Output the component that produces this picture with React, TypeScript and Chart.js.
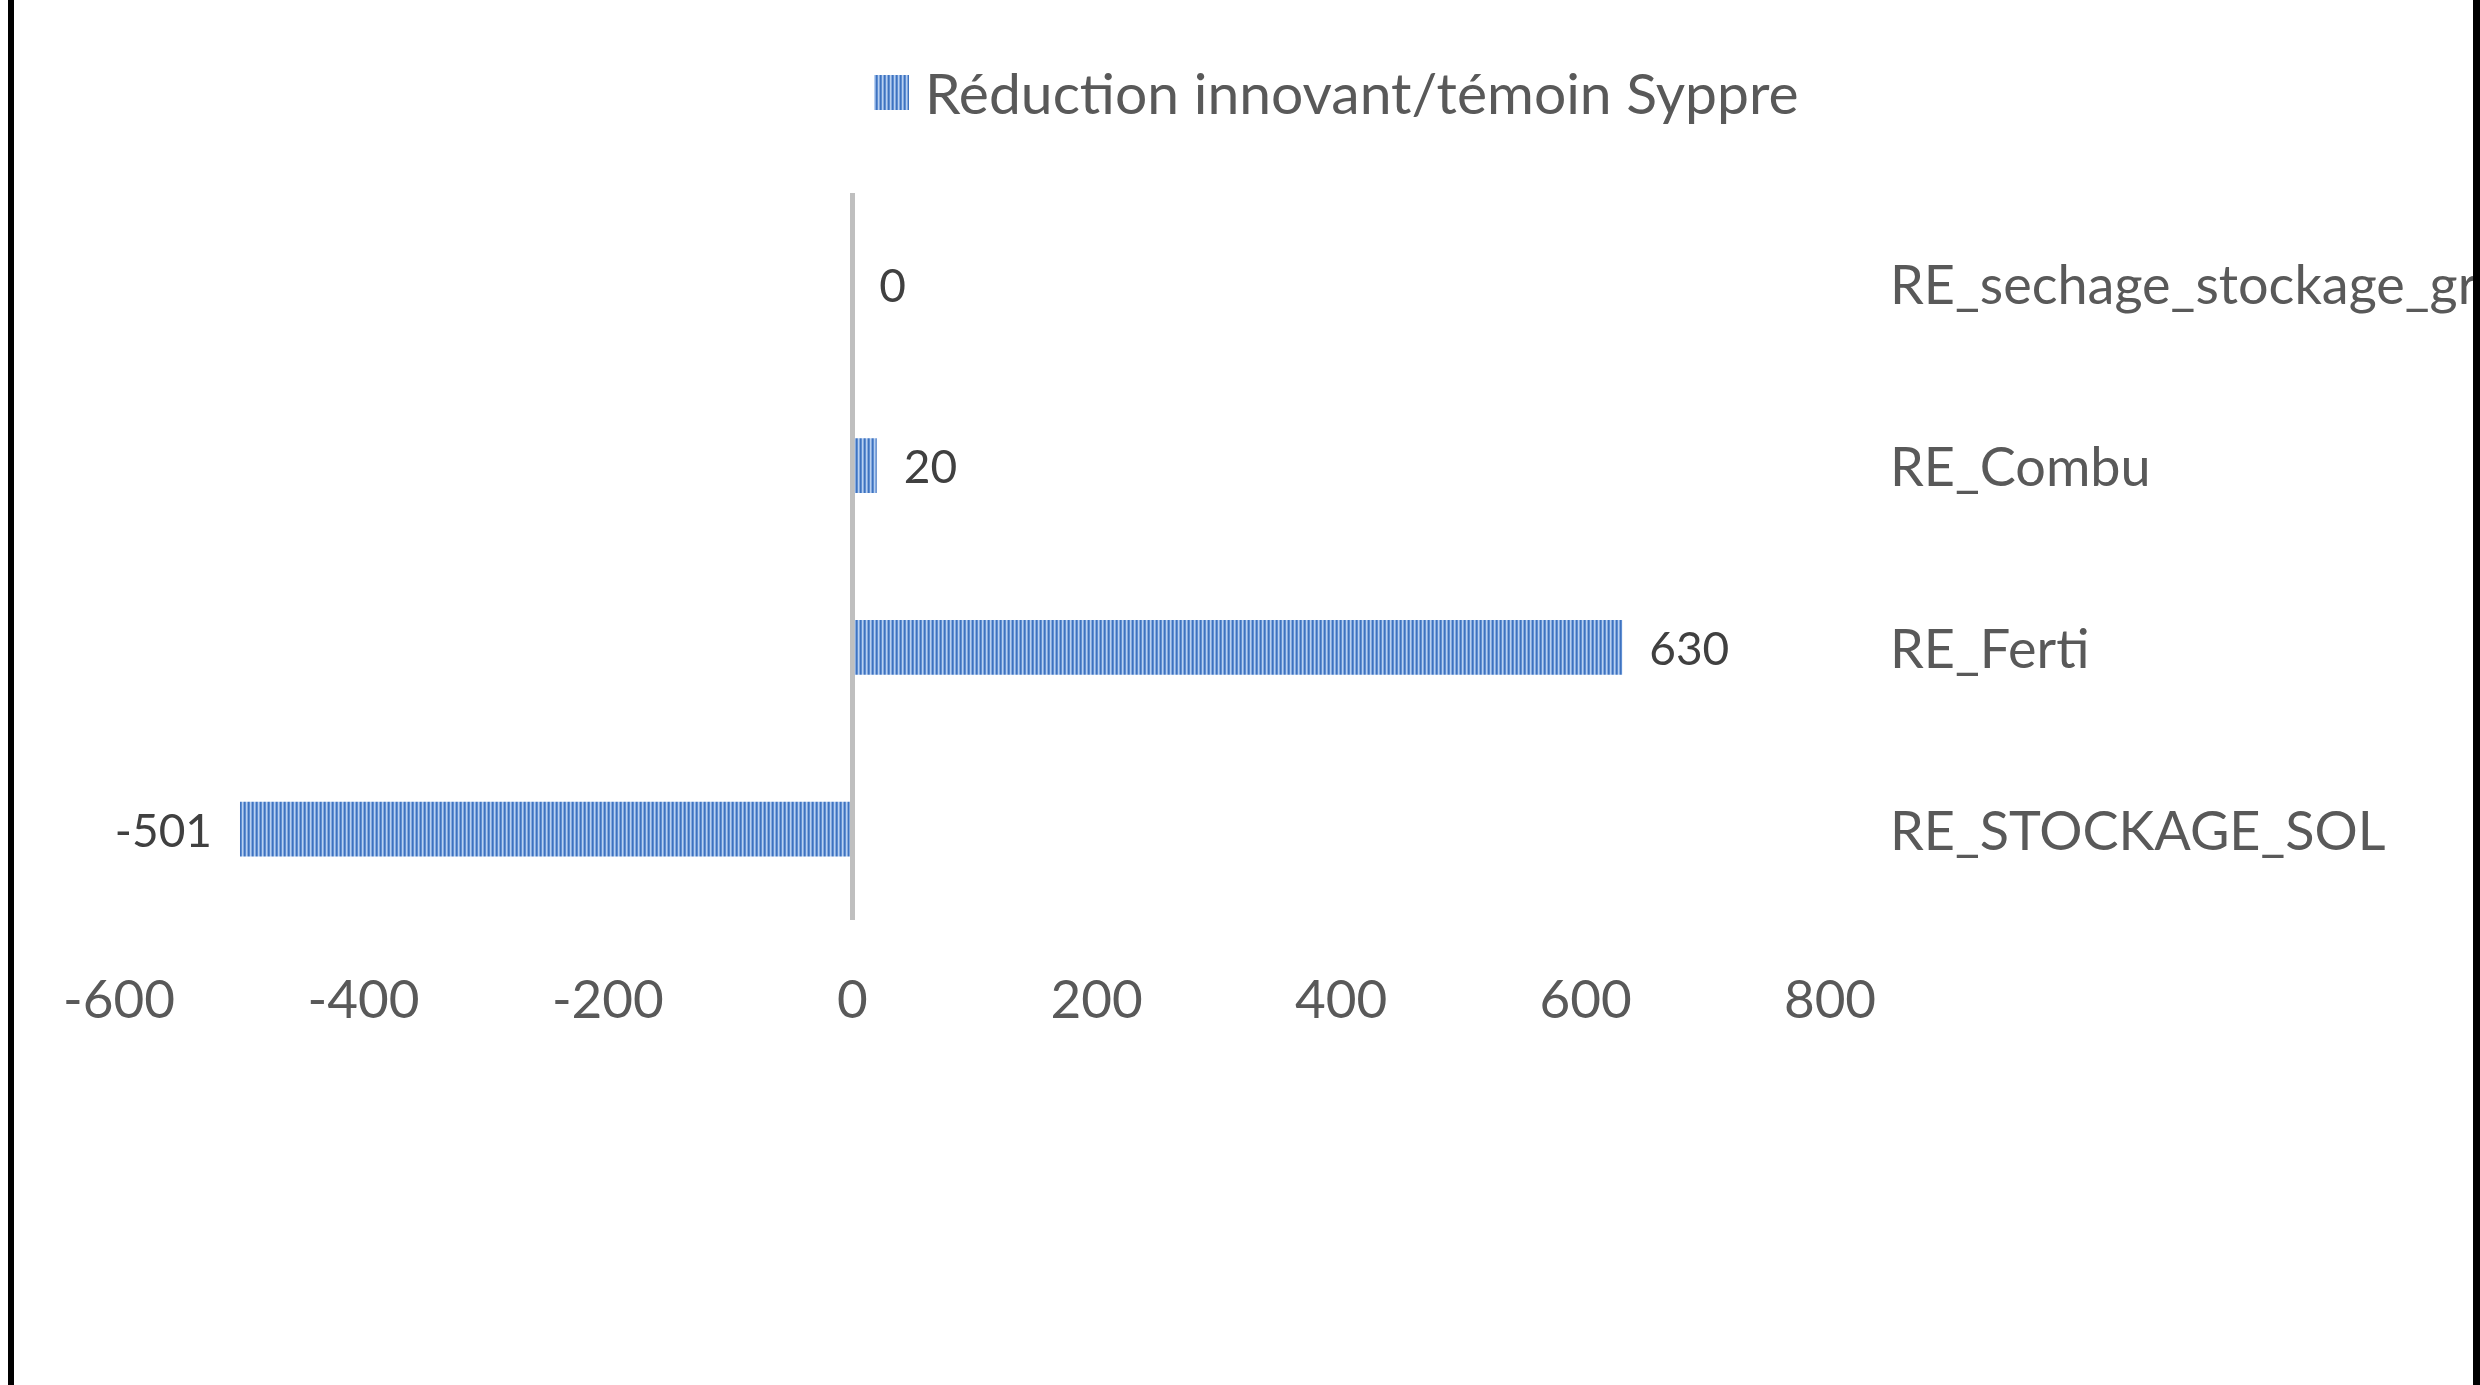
import React, { useEffect, useRef } from "react";
import { Chart, registerables } from "chart.js";

Chart.register(...registerables);

// ---- data ----
const categories = ["RE_sechage_stockage_grains", "RE_Combu", "RE_Ferti", "RE_STOCKAGE_SOL"];
const seriesLabel = "Réduction innovant/témoin Syppre";
const reductionValues = [0, 20, 630, -501];
const xTickValues = [-600, -400, -200, 0, 200, 400, 600, 800];

const W = 2480;
const H = 1385;
const FONT = "Lato, 'Open Sans', sans-serif";

function makeStripePattern(ctx: CanvasRenderingContext2D): CanvasPattern | string {
  const c = document.createElement("canvas");
  c.width = 4;
  c.height = 4;
  const g = c.getContext("2d");
  if (!g) return "#5b8bd0";
  const cols = ["#3f72be", "#5f8fd3", "#b9d0ef", "#83a9e0"];
  cols.forEach((col, i) => {
    g.fillStyle = col;
    g.fillRect(i, 0, 1, 4);
  });
  return ctx.createPattern(c, "repeat") || "#5b8bd0";
}

const legendPlugin = {
  id: "excelLegend",
  afterDraw(chart: any) {
    const ctx = chart.ctx as CanvasRenderingContext2D;
    const ds = chart.data.datasets[0];
    ctx.save();
    ctx.fillStyle = ds.backgroundColor;
    ctx.fillRect(874, 75, 35, 35);
    ctx.font = `57px ${FONT}`;
    ctx.fillStyle = "#595959";
    ctx.textBaseline = "middle";
    ctx.textAlign = "left";
    ctx.fillText(ds.label, 925, 96);
    ctx.restore();
  },
};

const dataLabelPlugin = {
  id: "valueLabels",
  afterDatasetsDraw(chart: any) {
    const ctx = chart.ctx as CanvasRenderingContext2D;
    const meta = chart.getDatasetMeta(0);
    const values = chart.data.datasets[0].data as number[];
    ctx.save();
    ctx.font = `46px ${FONT}`;
    ctx.fillStyle = "#404040";
    ctx.textBaseline = "middle";
    meta.data.forEach((bar: any, i: number) => {
      const v = values[i];
      const { x, y } = bar.getProps(["x", "y"], true);
      if (v >= 0) {
        ctx.textAlign = "left";
        ctx.fillText(String(v), x + 27, y + 3);
      } else {
        ctx.textAlign = "right";
        ctx.fillText(String(v), x - 28, y + 3);
      }
    });
    ctx.restore();
  },
};

export default function App() {
  const ref = useRef<HTMLCanvasElement | null>(null);

  useEffect(() => {
    const canvas = ref.current;
    if (!canvas) return;
    const ctx = canvas.getContext("2d");
    if (!ctx) return;
    try {
      (ctx as any).textRendering = "optimizeSpeed";
    } catch (e) {
      /* ignore */
    }
    const pattern = makeStripePattern(ctx);

    const chart = new Chart(ctx, {
      type: "bar",
      data: {
        labels: categories,
        datasets: [
          {
            label: seriesLabel,
            data: reductionValues,
            backgroundColor: pattern as any,
            borderWidth: 0,
            categoryPercentage: 1,
            barPercentage: 0.3,
          },
        ],
      },
      options: {
        indexAxis: "y",
        responsive: false,
        devicePixelRatio: 1,
        animation: false,
        layout: { padding: { left: 119, top: 193, right: 0, bottom: 0 } },
        plugins: {
          legend: { display: false },
          tooltip: { enabled: false },
          title: { display: false },
        },
        scales: {
          x: {
            type: "linear",
            position: "bottom",
            min: -600,
            max: 800,
            afterBuildTicks: (scale: any) => {
              scale.ticks = xTickValues.map((v) => ({ value: v }));
            },
            afterFit: (scale: any) => {
              scale.height = 465;
            },
            border: { display: false },
            grid: {
              drawTicks: false,
              color: (c: any) => (c.tick && c.tick.value === 0 ? "#bfbfbf" : "rgba(0,0,0,0)"),
              lineWidth: 5,
            },
            ticks: {
              color: "#595959",
              font: { family: FONT, size: 53 },
              padding: 49,
              maxRotation: 0,
              autoSkip: false,
            },
          },
          y: {
            type: "category",
            position: "right",
            afterFit: (scale: any) => {
              scale.width = 650;
            },
            border: { display: false },
            grid: { display: false, drawTicks: false },
            ticks: {
              color: "#595959",
              font: { family: FONT, size: 54 },
              padding: 60,
              labelOffset: 3,
              autoSkip: false,
            },
          },
        },
      },
      plugins: [dataLabelPlugin, legendPlugin],
    });

    return () => {
      chart.destroy();
    };
  }, []);

  return (
    <div
      style={{
        position: "fixed",
        left: 0,
        top: 0,
        width: W,
        height: H,
        background: "#ffffff",
        overflow: "hidden",
      }}
    >
      <canvas ref={ref} width={W} height={H} style={{ display: "block", width: W, height: H }} />
      <div style={{ position: "absolute", left: 8, top: 0, width: 6, height: H, background: "#000" }} />
      <div style={{ position: "absolute", left: 2473, top: 0, width: 7, height: H, background: "#000" }} />
    </div>
  );
}
